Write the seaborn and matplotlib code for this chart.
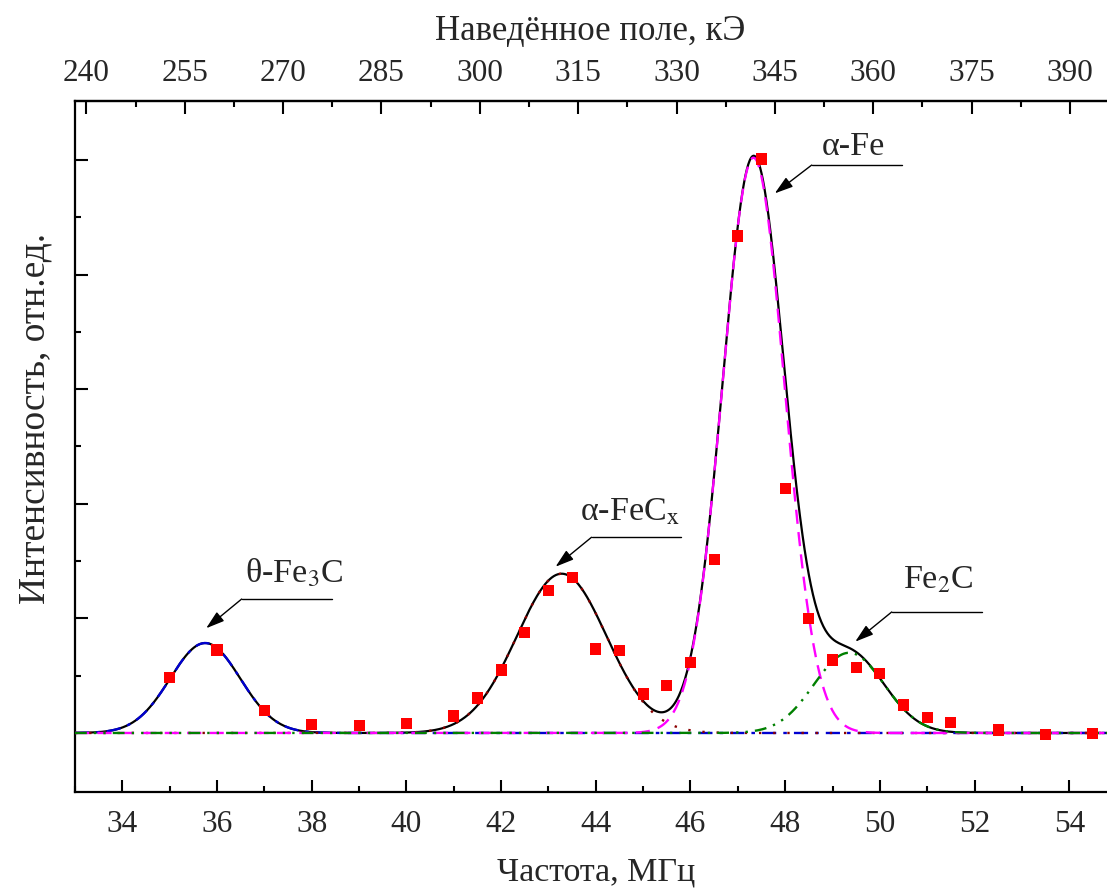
import numpy as np
import matplotlib
matplotlib.use("Agg")
import matplotlib.pyplot as plt
from matplotlib.ticker import MultipleLocator, FixedLocator, NullFormatter
import seaborn as sns
import pandas as pd

# ---- measured spectrum (red squares) ----
freq_mhz = [35, 36, 37, 38, 39, 40, 41, 41.5, 42, 42.5, 43, 43.5, 44, 44.5, 45, 45.5,
            46, 46.5, 47, 47.5, 48, 48.5, 49, 49.5, 50, 50.5, 51, 51.5, 52.5, 53.5, 54.5]
intensity = [0.483, 0.724, 0.200, 0.076, 0.064, 0.085, 0.148, 0.305, 0.550, 0.880, 1.240,
             1.359, 0.733, 0.716, 0.340, 0.413, 0.613, 1.516, 4.337, 5.009, 2.135, 1.000,
             0.637, 0.573, 0.521, 0.244, 0.137, 0.090, 0.026, -0.015, -0.005]

# ---- fitted gaussian components ----
phase_names = ["θ-Fe$_\\mathrm{3}$C", "α-FeC$_\\mathrm{x}$", "α-Fe", "Fe$_\\mathrm{2}$C"]
peak_center = [35.75, 43.28, 47.33, 49.35]
peak_height = [0.785, 1.39, 5.02, 0.70]
peak_sigma = [0.74, 0.95, 0.655, 0.74]

# ---- axes ticks ----
bottom_ticks = [34, 36, 38, 40, 42, 44, 46, 48, 50, 52, 54]
top_ticks = [240, 255, 270, 285, 300, 315, 330, 345, 360, 375, 390]
koe_per_mhz = 7.22

# ---- styling ----
comp_colors = ["#0000d0", "#8b0000", "#ff00ff", "#008000"]
comp_styles = [(0, (6, 3, 1.5, 3)), (0, (1, 5)), (0, (6, 3.5)), (0, (5, 3, 1, 3, 1, 3))]
ann_pos = [  # text x, text baseline y, line x0, x1, line y, tip x, tip y
    (37.62, 1.31, 36.52, 38.43, 1.169, 35.77, 0.914),
    (44.72, 1.85, 43.91, 45.81, 1.708, 43.15, 1.451),
    (49.45, 5.04, 48.56, 50.46, 4.956, 47.78, 4.709),
    (51.23, 1.265, 50.25, 52.15, 1.056, 49.48, 0.797),
]

sns.set_theme(style="white")
plt.rcParams["font.family"] = ["Liberation Serif", "DejaVu Serif"]
plt.rcParams["mathtext.fontset"] = "stix"

fig = plt.figure(figsize=(11.07, 8.90), dpi=100)
ax = fig.add_axes([75 / 1107, 98 / 890, 1041.6 / 1107, 691 / 890])

xg = np.linspace(33, 55, 1500)
comps = []
for c, h, s in zip(peak_center, peak_height, peak_sigma):
    comps.append(h * np.exp(-(xg - c) ** 2 / (2 * s ** 2)))
total = np.sum(comps, axis=0)

sns.lineplot(x=xg, y=total, ax=ax, color="black", lw=1.6, zorder=2, estimator=None)
for comp, col, ls in zip(comps, comp_colors, comp_styles):
    ax.plot(xg, comp, color=col, lw=1.7, linestyle=ls, zorder=3)

df = pd.DataFrame({"f": freq_mhz, "I": intensity})
sns.scatterplot(data=df, x="f", y="I", ax=ax, marker="s", color="#ff0000", s=64,
                edgecolor="none", zorder=5)

ax.set_xlim(33, 55)
ax.set_ylim(-0.515, 5.515)

for name, (tx, ty, lx0, lx1, ly, px, py) in zip(phase_names, ann_pos):
    ax.text(tx, ty, name, ha="center", va="baseline", fontsize=24.5)
    ax.plot([lx0, lx1], [ly, ly], color="black", lw=1.0, zorder=6)
    ax.annotate("", xy=(px, py), xytext=(lx0, ly),
                arrowprops=dict(arrowstyle="-|>,head_length=0.7,head_width=0.22",
                                color="black", lw=1.0, mutation_scale=16,
                                shrinkA=0, shrinkB=0), zorder=6)

# bottom axis
ax.xaxis.set_major_locator(FixedLocator(bottom_ticks))
ax.xaxis.set_minor_locator(MultipleLocator(1))
ax.yaxis.set_major_locator(MultipleLocator(1))
ax.yaxis.set_minor_locator(FixedLocator([0.5, 1.5, 2.5, 3.5, 4.5]))
ax.yaxis.set_major_formatter(NullFormatter())
ax.tick_params(axis="both", which="major", direction="in", length=9, width=1.5,
               color="black", labelsize=22.5, pad=13)
ax.tick_params(axis="both", which="minor", direction="in", length=4.5, width=1.5,
               color="black")
ax.tick_params(axis="x", which="both", bottom=True, top=False)
ax.tick_params(axis="y", which="both", left=True, right=False)
for sp in ax.spines.values():
    sp.set_linewidth(1.6)
    sp.set_color("black")

ax.set_xlabel("Частота, МГц", fontsize=24.5)
ax.xaxis.set_label_coords(0.5, -0.094)
ax.set_ylabel("Интенсивность, отн.ед.", fontsize=27)
ax.yaxis.set_label_coords(-0.022, 0.541)

# top axis: induced field
secax = ax.secondary_xaxis("top", functions=(lambda f: f * koe_per_mhz,
                                               lambda h: h / koe_per_mhz))
secax.xaxis.set_major_locator(FixedLocator(top_ticks))
secax.xaxis.set_minor_locator(MultipleLocator(7.5))
secax.tick_params(axis="x", which="major", direction="in", length=9, width=1.5,
                  labelsize=22.5, pad=9, color="black")
secax.tick_params(axis="x", which="minor", direction="in", length=4.5, width=1.5,
                  color="black")
secax.spines["top"].set_linewidth(1.6)
fig.text(590 / 1107, 1 - 40 / 890, "Наведённое поле, кЭ", fontsize=25,
         ha="center", va="baseline")

fig.savefig("out.png", dpi=100)
